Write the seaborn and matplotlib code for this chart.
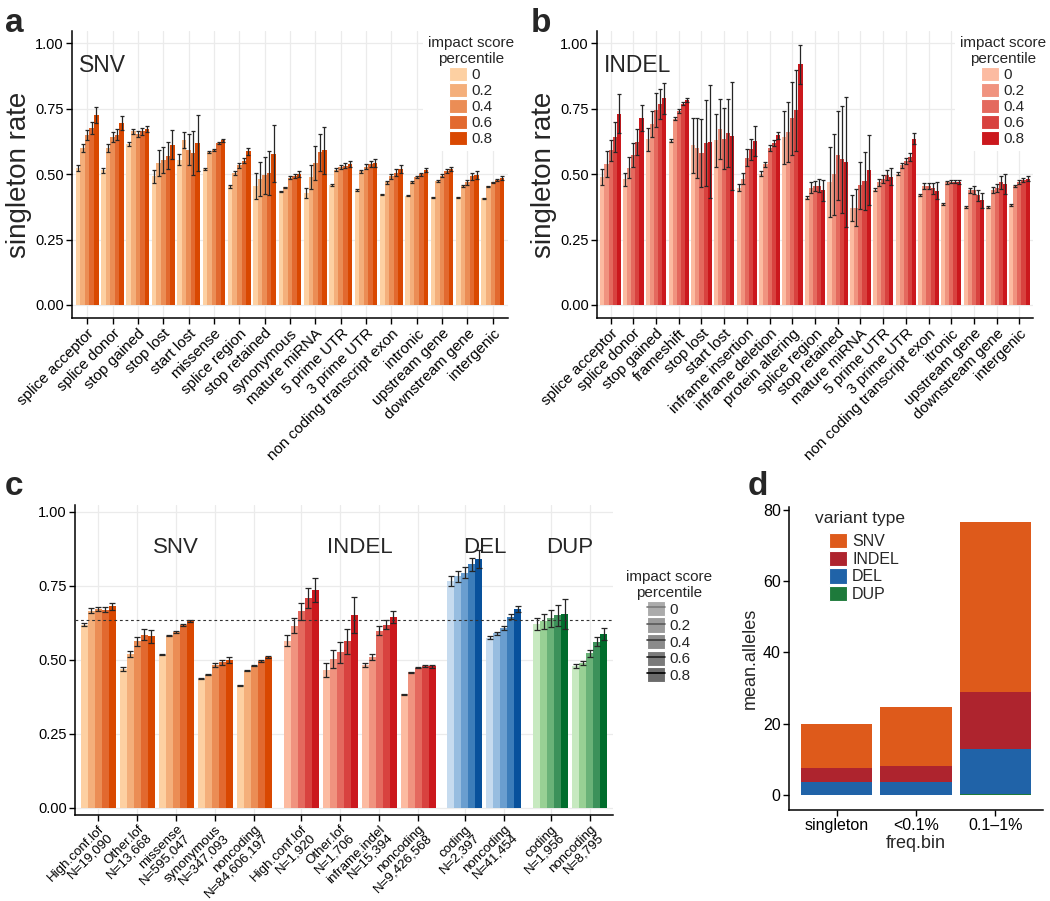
import numpy as np
import pandas as pd
import seaborn as sns
import matplotlib.pyplot as plt
from matplotlib.patches import Patch
from matplotlib.lines import Line2D

sns.set_style("ticks")
plt.rcParams['font.family'] = ['Liberation Sans', 'DejaVu Sans']

pct_levels = ["0", "0.2", "0.4", "0.6", "0.8"]

oranges = ['#FDD0A2', '#F4AF7B', '#EB8D55', '#E2692F', '#D94801']
reds = ['#FCBBA1', '#F0937F', '#E4695E', '#D8423F', '#CB181D']
blues = ['#C6DBEF', '#97BDE0', '#6A9ECF', '#3C7DBA', '#08519C']
greens = ['#C7E9C0', '#98D094', '#6AB278', '#3C915A', '#006D2C']

# ---- panel a: SNV ----
a_cats = ["splice acceptor", "splice donor", "stop gained", "stop lost", "start lost",
          "missense", "splice region", "stop retained", "synonymous", "mature miRNA",
          "5 prime UTR", "3 prime UTR", "non coding transcript exon", "intronic",
          "upstream gene", "downstream gene", "intergenic"]
a_rate = [[0.523, 0.599, 0.650, 0.676, 0.727],
          [0.514, 0.599, 0.642, 0.651, 0.695],
          [0.615, 0.663, 0.653, 0.663, 0.672],
          [0.491, 0.542, 0.554, 0.571, 0.612],
          [0.555, 0.631, 0.593, 0.580, 0.619],
          [0.519, 0.583, 0.593, 0.619, 0.629],
          [0.453, 0.504, 0.533, 0.551, 0.587],
          [0.455, 0.482, 0.495, 0.504, 0.578],
          [0.434, 0.449, 0.487, 0.494, 0.500],
          [0.427, 0.489, 0.542, 0.583, 0.591],
          [0.459, 0.517, 0.527, 0.532, 0.538],
          [0.440, 0.510, 0.529, 0.540, 0.542],
          [0.423, 0.468, 0.491, 0.506, 0.520],
          [0.417, 0.469, 0.489, 0.500, 0.517],
          [0.412, 0.474, 0.494, 0.513, 0.520],
          [0.411, 0.453, 0.468, 0.491, 0.497],
          [0.408, 0.453, 0.468, 0.476, 0.485]]
a_err = [[0.012, 0.015, 0.018, 0.022, 0.030],
         [0.010, 0.015, 0.018, 0.020, 0.027],
         [0.008, 0.010, 0.010, 0.012, 0.012],
         [0.025, 0.050, 0.050, 0.050, 0.055],
         [0.020, 0.030, 0.060, 0.083, 0.108],
         [0.004, 0.004, 0.004, 0.005, 0.005],
         [0.005, 0.006, 0.008, 0.010, 0.014],
         [0.050, 0.065, 0.070, 0.083, 0.110],
         [0.003, 0.003, 0.006, 0.008, 0.010],
         [0.020, 0.045, 0.065, 0.070, 0.090],
         [0.003, 0.005, 0.008, 0.010, 0.012],
         [0.003, 0.004, 0.008, 0.012, 0.015],
         [0.002, 0.006, 0.010, 0.012, 0.015],
         [0.002, 0.004, 0.005, 0.006, 0.008],
         [0.002, 0.004, 0.006, 0.008, 0.008],
         [0.002, 0.004, 0.008, 0.012, 0.015],
         [0.002, 0.003, 0.003, 0.004, 0.006]]

# ---- panel b: INDEL ----
b_cats = ["splice acceptor", "splice donor", "stop gained", "frameshift", "stop lost",
          "start lost", "inframe insertion", "inframe deletion", "protein altering",
          "splice region", "stop retained", "mature miRNA", "5 prime UTR", "3 prime UTR",
          "non coding transcript exon", "itronic", "upstream gene", "downstream gene",
          "intergenic"]
b_rate = [[0.489, 0.540, 0.591, 0.642, 0.731],
          [0.480, 0.525, 0.572, 0.623, 0.716],
          [0.633, 0.690, 0.744, 0.767, 0.789],
          [0.627, 0.712, 0.741, 0.769, 0.782],
          [0.610, 0.601, 0.582, 0.620, 0.624],
          [0.629, 0.671, 0.636, 0.656, 0.646],
          [0.448, 0.483, 0.563, 0.595, 0.627],
          [0.502, 0.538, 0.601, 0.620, 0.648],
          [0.640, 0.662, 0.713, 0.744, 0.920],
          [0.410, 0.448, 0.455, 0.455, 0.438],
          [0.470, 0.499, 0.572, 0.557, 0.546],
          [0.372, 0.372, 0.457, 0.474, 0.516],
          [0.440, 0.468, 0.480, 0.496, 0.490],
          [0.502, 0.534, 0.549, 0.565, 0.636],
          [0.419, 0.455, 0.455, 0.445, 0.436],
          [0.385, 0.468, 0.471, 0.471, 0.470],
          [0.376, 0.438, 0.438, 0.419, 0.400],
          [0.376, 0.438, 0.448, 0.468, 0.461],
          [0.381, 0.455, 0.470, 0.476, 0.483]]
b_err = [[0.032, 0.050, 0.040, 0.057, 0.075],
         [0.025, 0.040, 0.045, 0.050, 0.050],
         [0.045, 0.050, 0.065, 0.058, 0.058],
         [0.006, 0.006, 0.006, 0.006, 0.008],
         [0.105, 0.115, 0.130, 0.165, 0.215],
         [0.100, 0.115, 0.115, 0.130, 0.205],
         [0.013, 0.020, 0.032, 0.040, 0.057],
         [0.010, 0.010, 0.012, 0.012, 0.012],
         [0.100, 0.115, 0.140, 0.155, 0.075],
         [0.007, 0.020, 0.020, 0.025, 0.040],
         [0.135, 0.155, 0.170, 0.205, 0.250],
         [0.050, 0.070, 0.090, 0.110, 0.135],
         [0.006, 0.013, 0.015, 0.020, 0.032],
         [0.006, 0.010, 0.012, 0.015, 0.020],
         [0.004, 0.012, 0.012, 0.020, 0.032],
         [0.003, 0.004, 0.005, 0.005, 0.006],
         [0.004, 0.010, 0.015, 0.020, 0.028],
         [0.004, 0.012, 0.015, 0.025, 0.038],
         [0.003, 0.004, 0.008, 0.008, 0.010]]

# ---- panel c: by consequence class ----
c_types = ["SNV", "INDEL", "DEL", "DUP"]
c_cats = {
    "SNV": ["High.conf.lof\nN=19,090", "Other.lof\nN=13,668", "missense\nN=595,047",
            "synonymous\nN=347,093", "noncoding\nN=84,606,197"],
    "INDEL": ["High.conf.lof\nN=1,920", "Other.lof\nN=1,706", "inframe.indel\nN=15,394",
              "noncoding\nN=9,426,568"],
    "DEL": ["coding\nN=2,397", "noncoding\nN=41,454"],
    "DUP": ["coding\nN=1,956", "noncoding\nN=8,795"],
}
c_rate = {
    "SNV": [[0.619, 0.666, 0.672, 0.670, 0.681],
            [0.470, 0.520, 0.562, 0.585, 0.579],
            [0.517, 0.582, 0.595, 0.618, 0.630],
            [0.436, 0.450, 0.483, 0.492, 0.500],
            [0.414, 0.464, 0.480, 0.496, 0.509]],
    "INDEL": [[0.565, 0.616, 0.664, 0.709, 0.736],
              [0.466, 0.503, 0.526, 0.562, 0.651],
              [0.483, 0.511, 0.599, 0.618, 0.644],
              [0.383, 0.458, 0.473, 0.478, 0.478]],
    "DEL": [[0.767, 0.782, 0.795, 0.823, 0.840],
            [0.574, 0.590, 0.607, 0.646, 0.672]],
    "DUP": [[0.620, 0.630, 0.640, 0.650, 0.655],
            [0.480, 0.490, 0.522, 0.561, 0.586]],
}
c_err = {
    "SNV": [[0.006, 0.008, 0.008, 0.010, 0.012],
            [0.006, 0.011, 0.014, 0.018, 0.022],
            [0.002, 0.003, 0.003, 0.003, 0.003],
            [0.002, 0.002, 0.006, 0.008, 0.010],
            [0.001, 0.002, 0.002, 0.002, 0.004]],
    "INDEL": [[0.018, 0.025, 0.028, 0.035, 0.040],
              [0.025, 0.030, 0.035, 0.042, 0.060],
              [0.007, 0.010, 0.014, 0.015, 0.020],
              [0.001, 0.002, 0.002, 0.003, 0.004]],
    "DEL": [[0.017, 0.018, 0.020, 0.022, 0.030],
            [0.005, 0.005, 0.007, 0.008, 0.010]],
    "DUP": [[0.020, 0.025, 0.030, 0.035, 0.050],
            [0.006, 0.007, 0.011, 0.015, 0.020]],
}
c_palettes = {"SNV": oranges, "INDEL": reds, "DEL": blues, "DUP": greens}
overall_rate = 0.635

# ---- panel d ----
freq_bins = ["singleton", "<0.1%", "0.1\u20131%"]
d_snv = [12.3, 16.7, 47.5]
d_indel = [3.8, 4.4, 16.2]
d_del = [3.6, 3.6, 12.6]
d_dup = [0.1, 0.1, 0.2]
d_colors = {"SNV": '#DE5A1B', "INDEL": '#AE242E', "DEL": '#2063A8', "DUP": '#1E7A3B'}


def long_table(cats, rates, errs, xs=None):
    rows = []
    for i, c in enumerate(cats):
        for j, p in enumerate(pct_levels):
            rows.append({"cat": c, "x": i if xs is None else xs[i], "pct": p,
                         "rate": rates[i][j], "err": errs[i][j]})
    return pd.DataFrame(rows)


def bars_with_err(ax, df, palette, native=False, capsize=1.5):
    n0 = len(ax.containers)
    sns.barplot(data=df, x="x" if native else "cat", y="rate", hue="pct",
                hue_order=pct_levels, palette=palette, width=0.9, saturation=1,
                errorbar=None, native_scale=native, legend=False, ax=ax, linewidth=0)
    conts = list(ax.containers[n0:])
    for j, cont in enumerate(conts):
        sub = df[df["pct"] == pct_levels[j]]
        xs = [b.get_x() + b.get_width() / 2 for b in cont]
        ax.errorbar(xs, sub["rate"].values, yerr=sub["err"].values, fmt='none',
                    ecolor='#262626', elinewidth=0.9, capsize=capsize, capthick=0.9,
                    zorder=4)


def style_axes(ax, grid=True):
    sns.despine(ax=ax)
    for s in ["left", "bottom"]:
        ax.spines[s].set_linewidth(1.1)
        ax.spines[s].set_color('black')
    ax.tick_params(length=4, width=1, labelsize=10.5, colors='black', pad=2)
    if grid:
        ax.grid(True, color='#EBEBEB', lw=0.9)
    else:
        ax.grid(False)
    ax.set_axisbelow(True)


W, H = 1050, 901
fig = plt.figure(figsize=(W / 100, H / 100), dpi=100)


def add_axes(l, r, t, b):
    return fig.add_axes([l / W, 1 - b / H, (r - l) / W, (b - t) / H])


ticks01 = [0, 0.25, 0.5, 0.75, 1.0]
tick01_labels = ["0.00", "0.25", "0.50", "0.75", "1.00"]

# panels a and b
for (l, r), cats, rates, errs, pal, tag, lab, legx in [
        ((72, 508), a_cats, a_rate, a_err, oranges, "SNV", "a", 0.915),
        ((597, 1033), b_cats, b_rate, b_err, reds, "INDEL", "b", 0.931)]:
    ax = add_axes(l, r, 31, 318)
    df = long_table(cats, rates, errs)
    bars_with_err(ax, df, pal)
    style_axes(ax)
    ax.set_xlim(-0.6, len(cats) - 0.4)
    ax.set_ylim(-0.05, 1.047)
    ax.set_yticks(ticks01)
    ax.set_yticklabels(tick01_labels)
    ax.set_xticks(range(len(cats)))
    ax.set_xticklabels(cats, rotation=45, ha='right', rotation_mode='anchor', fontsize=11)
    ax.xaxis.grid(True, color='#EBEBEB', lw=0.9)
    ax.set_xlabel("")
    ax.set_ylabel("singleton rate", fontsize=20, labelpad=2)
    ax.text(0.015, 0.857, tag, transform=ax.transAxes, fontsize=16.5, va='baseline')
    handles = [Patch(facecolor=c, edgecolor='white', lw=0.8) for c in pal]
    leg = ax.legend(handles, pct_levels, title="impact score\npercentile",
                    loc='upper center', bbox_to_anchor=(legx, 1.0), borderaxespad=0,
                    fontsize=11, title_fontsize=11, handlelength=1.15,
                    handleheight=1.05, labelspacing=0.05, handletextpad=0.3,
                    borderpad=0.3, frameon=True, fancybox=False)
    leg.get_title().set_multialignment('center')
    leg.get_frame().set_edgecolor('none')
    leg.get_frame().set_facecolor('white')
    leg.get_frame().set_alpha(1)
    fig.text((5 if lab == "a" else 531) / W, 1 - 32 / H, lab, fontsize=24,
             fontweight='bold', va='baseline', ha='left')

# panel c
axc = add_axes(75, 613, 505, 815)
starts = {"SNV": 0.0, "INDEL": 5.2, "DEL": 9.4, "DUP": 11.6}
all_x, all_labels = [], []
for t in c_types:
    xs = [round(starts[t] + i, 2) for i in range(len(c_cats[t]))]
    df = long_table(c_cats[t], c_rate[t], c_err[t], xs)
    bars_with_err(axc, df, c_palettes[t], native=True, capsize=2.4)
    all_x += xs
    all_labels += c_cats[t]
    axc.text(np.mean(xs), 0.88, t, ha='center', va='center', fontsize=16)
style_axes(axc)
axc.axhline(overall_rate, color='#333333', lw=0.8, ls=(0, (2.5, 2.5)), zorder=5)
axc.set_xlim(-0.6, 13.2)
axc.set_ylim(-0.024, 1.023)
axc.set_yticks(ticks01)
axc.set_yticklabels(tick01_labels)
axc.set_xticks(all_x)
axc.set_xticklabels(all_labels, rotation=45, ha='right', rotation_mode='anchor',
                    fontsize=9.6, linespacing=0.95)
axc.xaxis.grid(True, color='#EBEBEB', lw=0.9)
axc.set_xlabel("")
axc.set_ylabel("")
greys = ['#ABABAB', '#9B9B9B', '#8B8B8B', '#7B7B7B', '#6B6B6B']
glines = ['#7A7A7A', '#5A5A5A', '#3A3A3A', '#1E1E1E', '#000000']
ghandles = [(Patch(facecolor=g, edgecolor='white', lw=0.8), Line2D([], [], color=k, lw=1.2))
            for g, k in zip(greys, glines)]
legc = fig.legend(ghandles, pct_levels, title="impact score\npercentile", loc='upper center',
                  bbox_to_anchor=(669 / W, 1 - 570 / H), frameon=False, fontsize=11,
                  title_fontsize=11, handlelength=1.15, handleheight=1.15, labelspacing=0.05,
                  handletextpad=0.3, borderpad=0, borderaxespad=0)
legc.get_title().set_multialignment('center')
fig.text(5 / W, 1 - 495 / H, "c", fontsize=24, fontweight='bold', va='baseline')

# panel d
axd = add_axes(789, 1043, 507, 810)
layers = [("SNV", np.array(d_dup) + d_del + np.array(d_indel) + d_snv),
          ("INDEL", np.array(d_dup) + d_del + np.array(d_indel)),
          ("DEL", np.array(d_dup) + d_del),
          ("DUP", np.array(d_dup))]
for name, h in layers:
    sns.barplot(x=freq_bins, y=h, color=d_colors[name], saturation=1, width=0.9,
                ax=axd, linewidth=0)
style_axes(axd, grid=False)
axd.tick_params(labelsize=11.5)
axd.set_xlim(-0.6, 2.6)
axd.set_ylim(-4.2, 80.8)
axd.set_yticks([0, 20, 40, 60, 80])
axd.set_xlabel("freq.bin", fontsize=13, labelpad=1)
axd.set_ylabel("mean.alleles", fontsize=13, labelpad=3)
fig.text(815 / W, 1 - 518 / H, "variant type", fontsize=12.5, va='center', ha='left')
dhandles = [Patch(facecolor=d_colors[n], edgecolor='white', lw=0.8) for n in c_types]
fig.legend(dhandles, c_types, loc='upper left', bbox_to_anchor=(829 / W, 1 - 533 / H),
           frameon=False, fontsize=11.5, handlelength=1.15, handleheight=1.1,
           labelspacing=0.1, handletextpad=0.3, borderpad=0, borderaxespad=0)
fig.text(748 / W, 1 - 495 / H, "d", fontsize=24, fontweight='bold', va='baseline')

fig.savefig("out.png", dpi=100)
